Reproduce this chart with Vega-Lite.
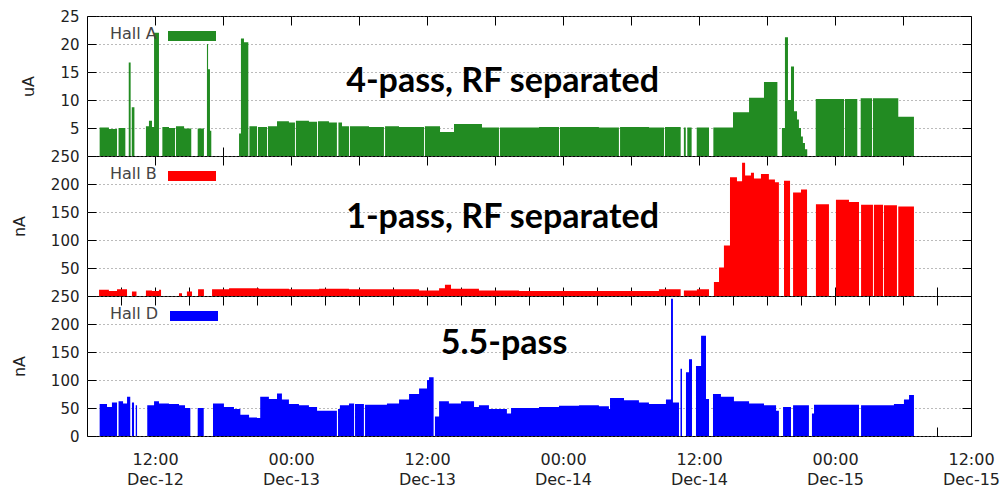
{
"$schema":"https://vega.github.io/schema/vega-lite/v6.json",
"padding":{"left":10,"top":8,"right":5,"bottom":2},
"background":"white",
"bounds":"flush",
"spacing":0,
"config":{
 "view":{"stroke":"black","strokeWidth":1},
 "axis":{"labelFont":"DejaVu Sans","labelFontSize":15,"labelColor":"#222","titleFont":"DejaVu Sans","titleFontSize":16,"titleFontWeight":"normal","titleColor":"#222","tickColor":"black","domain":false,"gridDash":[1,3],"gridColor":"#777","gridOpacity":1},
 "axisX":{"grid":false},
 "text":{"font":"Lato","fontWeight":"bold","fontSize":34,"baseline":"alphabetic","align":"center","color":"black"}
},
"datasets":{
"hallA":[
{"t":"2016-12-12T07:07Z","v":5.1,"h":"Hall A"},{"t":"2016-12-12T07:56Z","v":4.8,"h":"Hall A"},{"t":"2016-12-12T08:39Z","v":0,"h":"Hall A"},{"t":"2016-12-12T08:47Z","v":5.0,"h":"Hall A"},{"t":"2016-12-12T09:23Z","v":0,"h":"Hall A"},{"t":"2016-12-12T09:41Z","v":16.7,"h":"Hall A"},{"t":"2016-12-12T09:51Z","v":0,"h":"Hall A"},{"t":"2016-12-12T09:57Z","v":8.7,"h":"Hall A"},{"t":"2016-12-12T10:11Z","v":0,"h":"Hall A"},{"t":"2016-12-12T11:12Z","v":5.3,"h":"Hall A"},{"t":"2016-12-12T11:28Z","v":6.3,"h":"Hall A"},{"t":"2016-12-12T11:44Z","v":5.2,"h":"Hall A"},{"t":"2016-12-12T11:55Z","v":22.0,"h":"Hall A"},{"t":"2016-12-12T12:21Z","v":0,"h":"Hall A"},{"t":"2016-12-12T12:39Z","v":5.2,"h":"Hall A"},{"t":"2016-12-12T13:14Z","v":5.0,"h":"Hall A"},{"t":"2016-12-12T13:46Z","v":0,"h":"Hall A"},{"t":"2016-12-12T13:51Z","v":5.3,"h":"Hall A"},{"t":"2016-12-12T14:34Z","v":4.9,"h":"Hall A"},{"t":"2016-12-12T15:12Z","v":0,"h":"Hall A"},{"t":"2016-12-12T15:46Z","v":4.9,"h":"Hall A"},{"t":"2016-12-12T16:19Z","v":0,"h":"Hall A"},{"t":"2016-12-12T16:35Z","v":20.0,"h":"Hall A"},{"t":"2016-12-12T16:41Z","v":15.5,"h":"Hall A"},{"t":"2016-12-12T16:51Z","v":4.5,"h":"Hall A"},{"t":"2016-12-12T16:58Z","v":0,"h":"Hall A"},{"t":"2016-12-12T19:25Z","v":4.0,"h":"Hall A"},{"t":"2016-12-12T19:35Z","v":21.0,"h":"Hall A"},{"t":"2016-12-12T19:51Z","v":20.3,"h":"Hall A"},{"t":"2016-12-12T20:14Z","v":0,"h":"Hall A"},{"t":"2016-12-12T20:20Z","v":5.3,"h":"Hall A"},{"t":"2016-12-12T21:00Z","v":0,"h":"Hall A"},{"t":"2016-12-12T21:05Z","v":5.2,"h":"Hall A"},{"t":"2016-12-12T21:53Z","v":0,"h":"Hall A"},{"t":"2016-12-12T21:58Z","v":5.3,"h":"Hall A"},{"t":"2016-12-12T22:46Z","v":6.2,"h":"Hall A"},{"t":"2016-12-12T23:49Z","v":6.0,"h":"Hall A"},{"t":"2016-12-13T00:21Z","v":0,"h":"Hall A"},{"t":"2016-12-13T00:26Z","v":6.3,"h":"Hall A"},{"t":"2016-12-13T01:35Z","v":6.1,"h":"Hall A"},{"t":"2016-12-13T02:18Z","v":0,"h":"Hall A"},{"t":"2016-12-13T02:23Z","v":6.2,"h":"Hall A"},{"t":"2016-12-13T03:21Z","v":6.0,"h":"Hall A"},{"t":"2016-12-13T04:03Z","v":0,"h":"Hall A"},{"t":"2016-12-13T04:11Z","v":6.0,"h":"Hall A"},{"t":"2016-12-13T04:30Z","v":5.3,"h":"Hall A"},{"t":"2016-12-13T05:07Z","v":0,"h":"Hall A"},{"t":"2016-12-13T05:12Z","v":5.3,"h":"Hall A"},{"t":"2016-12-13T06:53Z","v":5.2,"h":"Hall A"},{"t":"2016-12-13T08:12Z","v":0,"h":"Hall A"},{"t":"2016-12-13T08:18Z","v":5.3,"h":"Hall A"},{"t":"2016-12-13T09:32Z","v":5.2,"h":"Hall A"},{"t":"2016-12-13T11:44Z","v":0,"h":"Hall A"},{"t":"2016-12-13T11:49Z","v":5.3,"h":"Hall A"},{"t":"2016-12-13T13:09Z","v":4.3,"h":"Hall A"},{"t":"2016-12-13T14:23Z","v":5.7,"h":"Hall A"},{"t":"2016-12-13T16:51Z","v":5.1,"h":"Hall A"},{"t":"2016-12-13T18:21Z","v":0,"h":"Hall A"},{"t":"2016-12-13T18:26Z","v":5.1,"h":"Hall A"},{"t":"2016-12-13T21:53Z","v":5.2,"h":"Hall A"},{"t":"2016-12-13T23:39Z","v":0,"h":"Hall A"},{"t":"2016-12-13T23:44Z","v":5.2,"h":"Hall A"},{"t":"2016-12-14T03:10Z","v":5.1,"h":"Hall A"},{"t":"2016-12-14T04:56Z","v":0,"h":"Hall A"},{"t":"2016-12-14T05:02Z","v":5.2,"h":"Hall A"},{"t":"2016-12-14T07:35Z","v":5.1,"h":"Hall A"},{"t":"2016-12-14T08:55Z","v":0,"h":"Hall A"},{"t":"2016-12-14T09:00Z","v":5.2,"h":"Hall A"},{"t":"2016-12-14T10:23Z","v":0,"h":"Hall A"},{"t":"2016-12-14T10:40Z","v":5.1,"h":"Hall A"},{"t":"2016-12-14T10:50Z","v":0,"h":"Hall A"},{"t":"2016-12-14T10:58Z","v":5.1,"h":"Hall A"},{"t":"2016-12-14T11:21Z","v":0,"h":"Hall A"},{"t":"2016-12-14T11:48Z","v":5.1,"h":"Hall A"},{"t":"2016-12-14T12:53Z","v":0,"h":"Hall A"},{"t":"2016-12-14T13:16Z","v":5.1,"h":"Hall A"},{"t":"2016-12-14T15:00Z","v":7.8,"h":"Hall A"},{"t":"2016-12-14T16:25Z","v":10.4,"h":"Hall A"},{"t":"2016-12-14T17:44Z","v":13.2,"h":"Hall A"},{"t":"2016-12-14T18:55Z","v":0,"h":"Hall A"},{"t":"2016-12-14T19:19Z","v":5.0,"h":"Hall A"},{"t":"2016-12-14T19:35Z","v":21.2,"h":"Hall A"},{"t":"2016-12-14T19:51Z","v":10.0,"h":"Hall A"},{"t":"2016-12-14T20:07Z","v":16.0,"h":"Hall A"},{"t":"2016-12-14T20:23Z","v":8.0,"h":"Hall A"},{"t":"2016-12-14T20:39Z","v":6.5,"h":"Hall A"},{"t":"2016-12-14T20:49Z","v":5.0,"h":"Hall A"},{"t":"2016-12-14T21:00Z","v":3.5,"h":"Hall A"},{"t":"2016-12-14T21:10Z","v":2.3,"h":"Hall A"},{"t":"2016-12-14T21:21Z","v":1.2,"h":"Hall A"},{"t":"2016-12-14T21:33Z","v":0,"h":"Hall A"},{"t":"2016-12-14T22:18Z","v":10.2,"h":"Hall A"},{"t":"2016-12-15T00:48Z","v":0,"h":"Hall A"},{"t":"2016-12-15T00:53Z","v":10.2,"h":"Hall A"},{"t":"2016-12-15T01:58Z","v":0,"h":"Hall A"},{"t":"2016-12-15T02:16Z","v":10.3,"h":"Hall A"},{"t":"2016-12-15T03:16Z","v":0,"h":"Hall A"},{"t":"2016-12-15T03:21Z","v":10.3,"h":"Hall A"},{"t":"2016-12-15T05:35Z","v":7.0,"h":"Hall A"},{"t":"2016-12-15T06:58Z","v":0,"h":"Hall A"}
],
"hallB":[
{"t":"2016-12-12T07:04Z","v":11,"h":"Hall B"},{"t":"2016-12-12T07:56Z","v":9,"h":"Hall B"},{"t":"2016-12-12T08:39Z","v":12,"h":"Hall B"},{"t":"2016-12-12T09:32Z","v":0,"h":"Hall B"},{"t":"2016-12-12T09:58Z","v":8,"h":"Hall B"},{"t":"2016-12-12T10:22Z","v":0,"h":"Hall B"},{"t":"2016-12-12T11:12Z","v":10,"h":"Hall B"},{"t":"2016-12-12T11:44Z","v":9,"h":"Hall B"},{"t":"2016-12-12T12:21Z","v":11,"h":"Hall B"},{"t":"2016-12-12T12:32Z","v":0,"h":"Hall B"},{"t":"2016-12-12T14:07Z","v":5,"h":"Hall B"},{"t":"2016-12-12T14:23Z","v":0,"h":"Hall B"},{"t":"2016-12-12T14:49Z","v":8,"h":"Hall B"},{"t":"2016-12-12T15:16Z","v":0,"h":"Hall B"},{"t":"2016-12-12T15:48Z","v":12,"h":"Hall B"},{"t":"2016-12-12T16:19Z","v":0,"h":"Hall B"},{"t":"2016-12-12T17:02Z","v":12,"h":"Hall B"},{"t":"2016-12-12T18:32Z","v":14,"h":"Hall B"},{"t":"2016-12-12T21:11Z","v":13,"h":"Hall B"},{"t":"2016-12-12T23:49Z","v":12,"h":"Hall B"},{"t":"2016-12-13T02:28Z","v":13,"h":"Hall B"},{"t":"2016-12-13T05:07Z","v":12,"h":"Hall B"},{"t":"2016-12-13T07:46Z","v":12,"h":"Hall B"},{"t":"2016-12-13T11:18Z","v":10,"h":"Hall B"},{"t":"2016-12-13T13:04Z","v":14,"h":"Hall B"},{"t":"2016-12-13T13:35Z","v":20,"h":"Hall B"},{"t":"2016-12-13T14:07Z","v":13,"h":"Hall B"},{"t":"2016-12-13T16:35Z","v":10,"h":"Hall B"},{"t":"2016-12-13T20:07Z","v":9,"h":"Hall B"},{"t":"2016-12-13T23:39Z","v":9,"h":"Hall B"},{"t":"2016-12-14T03:10Z","v":9,"h":"Hall B"},{"t":"2016-12-14T06:42Z","v":9,"h":"Hall B"},{"t":"2016-12-14T08:28Z","v":12,"h":"Hall B"},{"t":"2016-12-14T10:23Z","v":0,"h":"Hall B"},{"t":"2016-12-14T10:40Z","v":10,"h":"Hall B"},{"t":"2016-12-14T11:49Z","v":12,"h":"Hall B"},{"t":"2016-12-14T12:53Z","v":0,"h":"Hall B"},{"t":"2016-12-14T13:19Z","v":25,"h":"Hall B"},{"t":"2016-12-14T13:46Z","v":51,"h":"Hall B"},{"t":"2016-12-14T14:12Z","v":90,"h":"Hall B"},{"t":"2016-12-14T14:44Z","v":212,"h":"Hall B"},{"t":"2016-12-14T15:21Z","v":205,"h":"Hall B"},{"t":"2016-12-14T15:48Z","v":238,"h":"Hall B"},{"t":"2016-12-14T16:04Z","v":215,"h":"Hall B"},{"t":"2016-12-14T16:35Z","v":220,"h":"Hall B"},{"t":"2016-12-14T16:51Z","v":210,"h":"Hall B"},{"t":"2016-12-14T17:28Z","v":218,"h":"Hall B"},{"t":"2016-12-14T18:10Z","v":208,"h":"Hall B"},{"t":"2016-12-14T18:42Z","v":203,"h":"Hall B"},{"t":"2016-12-14T19:03Z","v":0,"h":"Hall B"},{"t":"2016-12-14T19:30Z","v":206,"h":"Hall B"},{"t":"2016-12-14T20:02Z","v":0,"h":"Hall B"},{"t":"2016-12-14T20:18Z","v":185,"h":"Hall B"},{"t":"2016-12-14T21:00Z","v":190,"h":"Hall B"},{"t":"2016-12-14T21:32Z","v":0,"h":"Hall B"},{"t":"2016-12-14T22:19Z","v":164,"h":"Hall B"},{"t":"2016-12-14T23:28Z","v":0,"h":"Hall B"},{"t":"2016-12-15T00:05Z","v":172,"h":"Hall B"},{"t":"2016-12-15T01:14Z","v":168,"h":"Hall B"},{"t":"2016-12-15T02:07Z","v":0,"h":"Hall B"},{"t":"2016-12-15T02:18Z","v":163,"h":"Hall B"},{"t":"2016-12-15T03:21Z","v":0,"h":"Hall B"},{"t":"2016-12-15T03:26Z","v":163,"h":"Hall B"},{"t":"2016-12-15T04:14Z","v":0,"h":"Hall B"},{"t":"2016-12-15T04:19Z","v":162,"h":"Hall B"},{"t":"2016-12-15T05:28Z","v":0,"h":"Hall B"},{"t":"2016-12-15T05:35Z","v":160,"h":"Hall B"},{"t":"2016-12-15T06:58Z","v":0,"h":"Hall B"}
],
"hallD":[
{"t":"2016-12-12T07:07Z","v":57,"h":"Hall D"},{"t":"2016-12-12T07:46Z","v":52,"h":"Hall D"},{"t":"2016-12-12T08:12Z","v":60,"h":"Hall D"},{"t":"2016-12-12T08:39Z","v":0,"h":"Hall D"},{"t":"2016-12-12T08:47Z","v":62,"h":"Hall D"},{"t":"2016-12-12T09:11Z","v":58,"h":"Hall D"},{"t":"2016-12-12T09:32Z","v":70,"h":"Hall D"},{"t":"2016-12-12T09:49Z","v":0,"h":"Hall D"},{"t":"2016-12-12T09:58Z","v":60,"h":"Hall D"},{"t":"2016-12-12T10:09Z","v":0,"h":"Hall D"},{"t":"2016-12-12T10:18Z","v":55,"h":"Hall D"},{"t":"2016-12-12T10:25Z","v":0,"h":"Hall D"},{"t":"2016-12-12T11:19Z","v":55,"h":"Hall D"},{"t":"2016-12-12T11:55Z","v":62,"h":"Hall D"},{"t":"2016-12-12T12:21Z","v":58,"h":"Hall D"},{"t":"2016-12-12T13:14Z","v":57,"h":"Hall D"},{"t":"2016-12-12T14:07Z","v":55,"h":"Hall D"},{"t":"2016-12-12T14:39Z","v":50,"h":"Hall D"},{"t":"2016-12-12T15:07Z","v":0,"h":"Hall D"},{"t":"2016-12-12T15:46Z","v":50,"h":"Hall D"},{"t":"2016-12-12T16:18Z","v":0,"h":"Hall D"},{"t":"2016-12-12T17:07Z","v":58,"h":"Hall D"},{"t":"2016-12-12T18:05Z","v":52,"h":"Hall D"},{"t":"2016-12-12T18:58Z","v":48,"h":"Hall D"},{"t":"2016-12-12T19:32Z","v":38,"h":"Hall D"},{"t":"2016-12-12T20:18Z","v":33,"h":"Hall D"},{"t":"2016-12-12T21:00Z","v":32,"h":"Hall D"},{"t":"2016-12-12T21:17Z","v":70,"h":"Hall D"},{"t":"2016-12-12T22:03Z","v":66,"h":"Hall D"},{"t":"2016-12-12T22:46Z","v":76,"h":"Hall D"},{"t":"2016-12-12T23:12Z","v":65,"h":"Hall D"},{"t":"2016-12-12T23:49Z","v":57,"h":"Hall D"},{"t":"2016-12-13T00:42Z","v":55,"h":"Hall D"},{"t":"2016-12-13T01:35Z","v":52,"h":"Hall D"},{"t":"2016-12-13T02:18Z","v":45,"h":"Hall D"},{"t":"2016-12-13T03:21Z","v":45,"h":"Hall D"},{"t":"2016-12-13T04:03Z","v":0,"h":"Hall D"},{"t":"2016-12-13T04:09Z","v":48,"h":"Hall D"},{"t":"2016-12-13T04:19Z","v":55,"h":"Hall D"},{"t":"2016-12-13T05:07Z","v":58,"h":"Hall D"},{"t":"2016-12-13T05:34Z","v":0,"h":"Hall D"},{"t":"2016-12-13T05:39Z","v":57,"h":"Hall D"},{"t":"2016-12-13T06:26Z","v":0,"h":"Hall D"},{"t":"2016-12-13T06:32Z","v":56,"h":"Hall D"},{"t":"2016-12-13T08:28Z","v":58,"h":"Hall D"},{"t":"2016-12-13T09:32Z","v":65,"h":"Hall D"},{"t":"2016-12-13T10:25Z","v":75,"h":"Hall D"},{"t":"2016-12-13T11:18Z","v":85,"h":"Hall D"},{"t":"2016-12-13T12:00Z","v":100,"h":"Hall D"},{"t":"2016-12-13T12:11Z","v":105,"h":"Hall D"},{"t":"2016-12-13T12:35Z","v":0,"h":"Hall D"},{"t":"2016-12-13T12:42Z","v":35,"h":"Hall D"},{"t":"2016-12-13T13:04Z","v":62,"h":"Hall D"},{"t":"2016-12-13T13:56Z","v":58,"h":"Hall D"},{"t":"2016-12-13T15:00Z","v":62,"h":"Hall D"},{"t":"2016-12-13T16:09Z","v":52,"h":"Hall D"},{"t":"2016-12-13T16:35Z","v":55,"h":"Hall D"},{"t":"2016-12-13T17:28Z","v":48,"h":"Hall D"},{"t":"2016-12-13T18:21Z","v":48,"h":"Hall D"},{"t":"2016-12-13T19:03Z","v":40,"h":"Hall D"},{"t":"2016-12-13T19:25Z","v":50,"h":"Hall D"},{"t":"2016-12-13T21:53Z","v":52,"h":"Hall D"},{"t":"2016-12-13T23:39Z","v":54,"h":"Hall D"},{"t":"2016-12-14T01:25Z","v":55,"h":"Hall D"},{"t":"2016-12-14T03:10Z","v":53,"h":"Hall D"},{"t":"2016-12-14T04:03Z","v":48,"h":"Hall D"},{"t":"2016-12-14T04:09Z","v":68,"h":"Hall D"},{"t":"2016-12-14T05:23Z","v":64,"h":"Hall D"},{"t":"2016-12-14T06:42Z","v":60,"h":"Hall D"},{"t":"2016-12-14T07:35Z","v":57,"h":"Hall D"},{"t":"2016-12-14T08:28Z","v":57,"h":"Hall D"},{"t":"2016-12-14T09:05Z","v":65,"h":"Hall D"},{"t":"2016-12-14T09:32Z","v":245,"h":"Hall D"},{"t":"2016-12-14T09:42Z","v":60,"h":"Hall D"},{"t":"2016-12-14T10:14Z","v":0,"h":"Hall D"},{"t":"2016-12-14T10:22Z","v":120,"h":"Hall D"},{"t":"2016-12-14T10:30Z","v":0,"h":"Hall D"},{"t":"2016-12-14T10:51Z","v":114,"h":"Hall D"},{"t":"2016-12-14T11:07Z","v":137,"h":"Hall D"},{"t":"2016-12-14T11:23Z","v":0,"h":"Hall D"},{"t":"2016-12-14T11:44Z","v":125,"h":"Hall D"},{"t":"2016-12-14T12:11Z","v":179,"h":"Hall D"},{"t":"2016-12-14T12:37Z","v":66,"h":"Hall D"},{"t":"2016-12-14T12:53Z","v":0,"h":"Hall D"},{"t":"2016-12-14T13:14Z","v":75,"h":"Hall D"},{"t":"2016-12-14T13:56Z","v":70,"h":"Hall D"},{"t":"2016-12-14T15:05Z","v":62,"h":"Hall D"},{"t":"2016-12-14T16:25Z","v":58,"h":"Hall D"},{"t":"2016-12-14T17:44Z","v":55,"h":"Hall D"},{"t":"2016-12-14T18:48Z","v":45,"h":"Hall D"},{"t":"2016-12-14T19:03Z","v":0,"h":"Hall D"},{"t":"2016-12-14T19:25Z","v":52,"h":"Hall D"},{"t":"2016-12-14T20:07Z","v":0,"h":"Hall D"},{"t":"2016-12-14T20:18Z","v":55,"h":"Hall D"},{"t":"2016-12-14T21:42Z","v":0,"h":"Hall D"},{"t":"2016-12-14T21:58Z","v":40,"h":"Hall D"},{"t":"2016-12-14T22:09Z","v":56,"h":"Hall D"},{"t":"2016-12-15T00:00Z","v":56,"h":"Hall D"},{"t":"2016-12-15T02:07Z","v":0,"h":"Hall D"},{"t":"2016-12-15T02:18Z","v":55,"h":"Hall D"},{"t":"2016-12-15T03:53Z","v":55,"h":"Hall D"},{"t":"2016-12-15T05:12Z","v":57,"h":"Hall D"},{"t":"2016-12-15T06:05Z","v":65,"h":"Hall D"},{"t":"2016-12-15T06:32Z","v":73,"h":"Hall D"},{"t":"2016-12-15T06:58Z","v":0,"h":"Hall D"}
]
},
"vconcat":[
{
 "width":884,"height":140,
 "layer":[
  {"data":{"name":"hallA"},
   "mark":{"type":"area","interpolate":"step-after"},
   "encoding":{
    "x":{"field":"t","type":"temporal","scale":{"type":"utc","domain":[1481522400000,1481803200000]},"axis":{"orient":"bottom","labels":false,"values":[1481544000000,1481565600000,1481587200000,1481608800000,1481630400000,1481652000000,1481673600000,1481695200000,1481716800000,1481738400000,1481760000000,1481781600000],"tickSize":-9,"title":null}},
    "y":{"field":"v","type":"quantitative","scale":{"domain":[0,25],"nice":false},"axis":{"values":[0,5,10,15,20,25],"labelExpr":"datum.value == 0 ? '' : datum.label","tickSize":-9,"labelPadding":17,"grid":true,"title":"uA","titleX":-59,"titleY":70,"titleAngle":270,"titleAlign":"center","titleBaseline":"middle"}},
    "color":{"field":"h","type":"nominal","scale":{"range":["#228B22"]},"legend":{"orient":"none","legendX":17,"legendY":4,"title":"Hall A","titleOrient":"left","titleFont":"DejaVu Sans","titleFontSize":16,"titleFontWeight":"normal","titleColor":"#444","titlePadding":25,"labelExpr":"''","symbolType":"M-2.4,-0.5H2.4V0.5H-2.4Z","symbolSize":400,"symbolStrokeWidth":0,"symbolOpacity":1,"padding":6}}
   }},
  {"data":{"values":[{"t":"2016-12-13T18:40Z","v":11.4,"label":"4-pass, RF separated"}]},
   "mark":{"type":"text"},
   "encoding":{
    "x":{"field":"t","type":"temporal","scale":{"type":"utc","domain":[1481522400000,1481803200000]},"axis":{"orient":"top","labels":false,"values":[1481544000000,1481565600000,1481587200000,1481608800000,1481630400000,1481652000000,1481673600000,1481695200000,1481716800000,1481738400000,1481760000000,1481781600000],"tickSize":-9,"title":null}},
    "y":{"field":"v","type":"quantitative","scale":{"domain":[0,25],"nice":false},"axis":{"orient":"right","labels":false,"values":[0,5,10,15,20,25],"tickSize":-9,"grid":false,"title":null}},
    "text":{"field":"label"}
   }}
 ],
 "resolve":{"axis":{"x":"independent","y":"independent"}}
},
{
 "width":884,"height":140,
 "layer":[
  {"data":{"name":"hallB"},
   "mark":{"type":"area","interpolate":"step-after"},
   "encoding":{
    "x":{"field":"t","type":"temporal","scale":{"type":"utc","domain":[1481522400000,1481803200000]},"axis":{"orient":"bottom","labels":false,"values":[1481533200000,1481544000000,1481554800000,1481565600000,1481576400000,1481587200000,1481598000000,1481608800000,1481619600000,1481630400000,1481641200000,1481652000000,1481662800000,1481673600000,1481684400000,1481695200000,1481706000000,1481716800000,1481727600000,1481738400000,1481749200000,1481760000000,1481770800000,1481781600000,1481792400000],"tickSize":-9,"title":null}},
    "y":{"field":"v","type":"quantitative","scale":{"domain":[0,250],"nice":false},"axis":{"values":[0,50,100,150,200,250],"labelExpr":"datum.value == 0 ? '' : datum.label","tickSize":-9,"labelPadding":17,"grid":true,"title":"nA","titleX":-68,"titleY":70,"titleAngle":270,"titleAlign":"center","titleBaseline":"middle"}},
    "color":{"field":"h","type":"nominal","scale":{"range":["#FF0000"]},"legend":{"orient":"none","legendX":17,"legendY":4,"title":"Hall B","titleOrient":"left","titleFont":"DejaVu Sans","titleFontSize":16,"titleFontWeight":"normal","titleColor":"#444","titlePadding":25,"labelExpr":"''","symbolType":"M-2.4,-0.5H2.4V0.5H-2.4Z","symbolSize":400,"symbolStrokeWidth":0,"symbolOpacity":1,"padding":6}}
   }},
  {"data":{"values":[{"t":"2016-12-13T18:40Z","v":122.3,"label":"1-pass, RF separated"}]},
   "mark":{"type":"text"},
   "encoding":{
    "x":{"field":"t","type":"temporal","scale":{"type":"utc","domain":[1481522400000,1481803200000]},"axis":{"orient":"top","labels":false,"values":[1481544000000,1481565600000,1481587200000,1481608800000,1481630400000,1481652000000,1481673600000,1481695200000,1481716800000,1481738400000,1481760000000,1481781600000],"tickSize":-9,"title":null}},
    "y":{"field":"v","type":"quantitative","scale":{"domain":[0,250],"nice":false},"axis":{"orient":"right","labels":false,"values":[0,50,100,150,200,250],"tickSize":-9,"grid":false,"title":null}},
    "text":{"field":"label"}
   }}
 ],
 "resolve":{"axis":{"x":"independent","y":"independent"}}
},
{
 "width":884,"height":140,
 "layer":[
  {"data":{"name":"hallD"},
   "mark":{"type":"area","interpolate":"step-after"},
   "encoding":{
    "x":{"field":"t","type":"temporal","scale":{"type":"utc","domain":[1481522400000,1481803200000]},"axis":{"orient":"bottom","values":[1481533200000,1481544000000,1481554800000,1481565600000,1481576400000,1481587200000,1481598000000,1481608800000,1481619600000,1481630400000,1481641200000,1481652000000,1481662800000,1481673600000,1481684400000,1481695200000,1481706000000,1481716800000,1481727600000,1481738400000,1481749200000,1481760000000,1481770800000,1481781600000,1481792400000,1481803200000],"tickSize":-9,"labelPadding":24,"labelFontSize":16,"labelLineHeight":20,"labelOverlap":false,"labelFlush":false,"labelExpr":"utchours(datum.value) % 12 == 0 ? [utcFormat(datum.value, '%H:%M'), utcFormat(datum.value, '%b-%d')] : ''","title":null}},
    "y":{"field":"v","type":"quantitative","scale":{"domain":[0,250],"nice":false},"axis":{"values":[0,50,100,150,200,250],"tickSize":-9,"labelPadding":17,"grid":true,"title":"nA","titleX":-68,"titleY":70,"titleAngle":270,"titleAlign":"center","titleBaseline":"middle"}},
    "color":{"field":"h","type":"nominal","scale":{"range":["#0000FF"]},"legend":{"orient":"none","legendX":17,"legendY":4,"title":"Hall D","titleOrient":"left","titleFont":"DejaVu Sans","titleFontSize":16,"titleFontWeight":"normal","titleColor":"#444","titlePadding":25,"labelExpr":"''","symbolType":"M-2.4,-0.5H2.4V0.5H-2.4Z","symbolSize":400,"symbolStrokeWidth":0,"symbolOpacity":1,"padding":6}}
   }},
  {"data":{"values":[{"t":"2016-12-13T18:48Z","v":146.4,"label":"5.5-pass"}]},
   "mark":{"type":"text"},
   "encoding":{
    "x":{"field":"t","type":"temporal","scale":{"type":"utc","domain":[1481522400000,1481803200000]},"axis":{"orient":"top","labels":false,"values":[1481533200000,1481544000000,1481554800000,1481565600000,1481576400000,1481587200000,1481598000000,1481608800000,1481619600000,1481630400000,1481641200000,1481652000000,1481662800000,1481673600000,1481684400000,1481695200000,1481706000000,1481716800000,1481727600000,1481738400000,1481749200000,1481760000000,1481770800000,1481781600000,1481792400000],"tickSize":-9,"title":null}},
    "y":{"field":"v","type":"quantitative","scale":{"domain":[0,250],"nice":false},"axis":{"orient":"right","labels":false,"values":[0,50,100,150,200,250],"tickSize":-9,"grid":false,"title":null}},
    "text":{"field":"label"}
   }}
 ],
 "resolve":{"axis":{"x":"independent","y":"independent"}}
}
],
"resolve":{"scale":{"color":"independent","y":"independent"},"legend":{"color":"independent"}}
}
